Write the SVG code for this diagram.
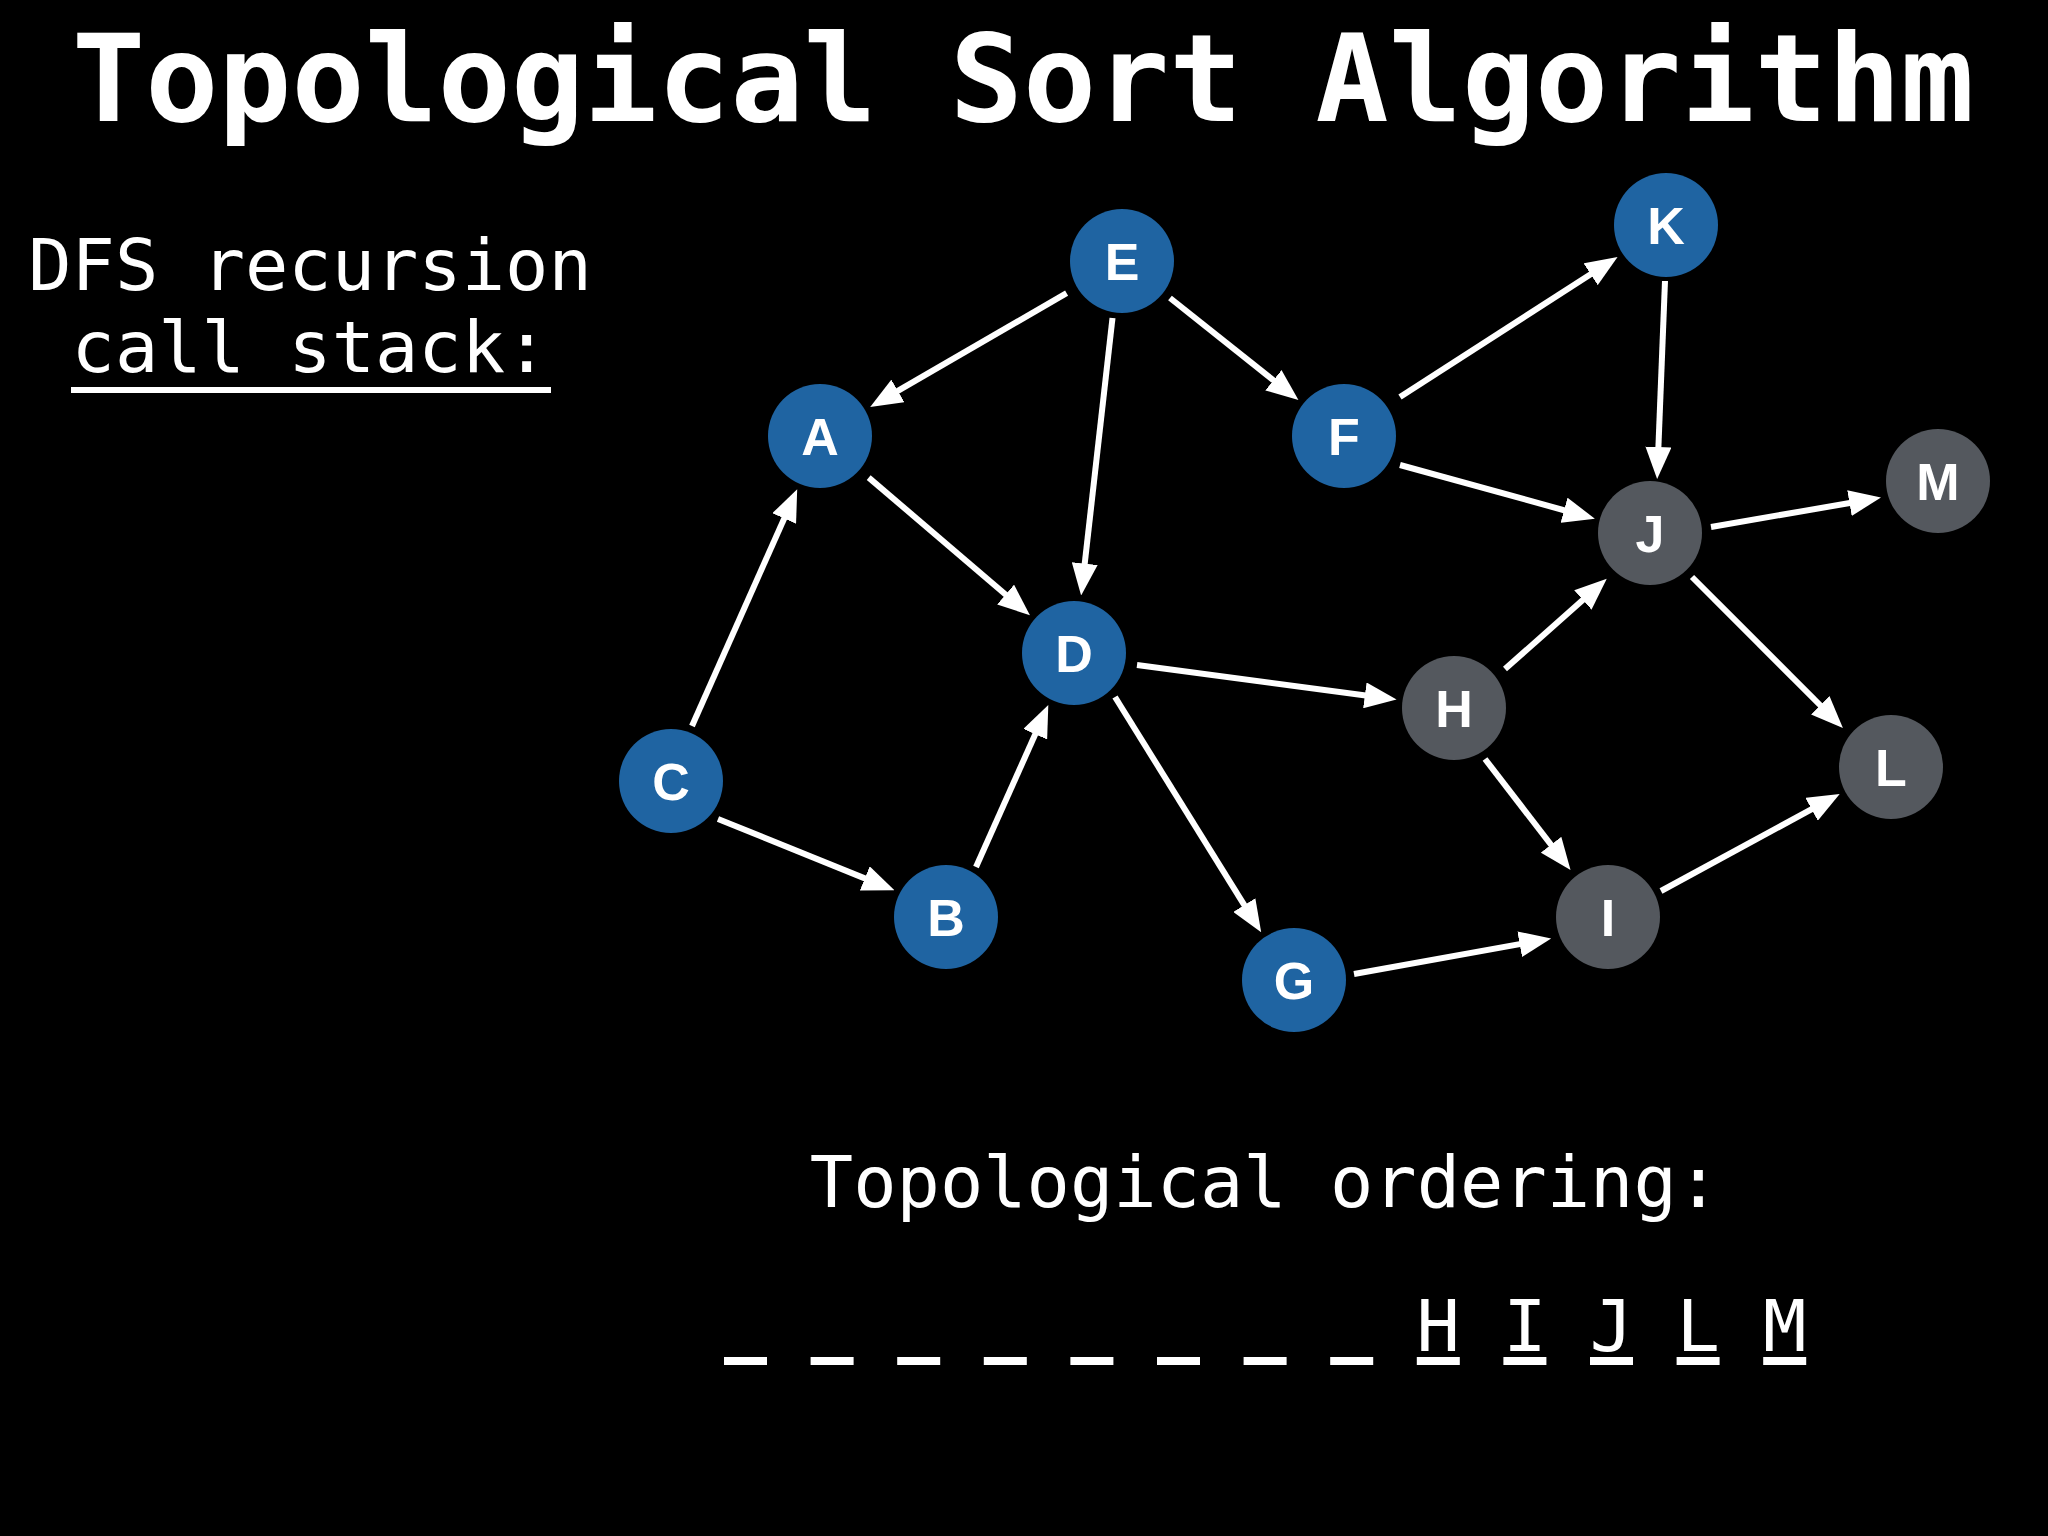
<svg xmlns="http://www.w3.org/2000/svg" width="2048" height="1536" viewBox="0 0 2048 1536">
<defs>
<style>
.title{font-family:"DejaVu Sans Mono","Liberation Mono",monospace;font-weight:bold;font-size:121.5px;fill:#fff}
.mono{font-family:"DejaVu Sans Mono","Liberation Mono",monospace;font-size:72px;fill:#fff}
.blue{fill:#1f64a2}
.gray{fill:#54585e}
.lbl{font-family:"Liberation Sans",Arial,sans-serif;font-weight:bold;font-size:52px;fill:#fff;text-anchor:middle}
.edge{stroke:#fff;stroke-width:6;fill:none;marker-end:url(#arr)}
.dash{fill:#fff}
</style>
<marker id="arr" markerUnits="userSpaceOnUse" markerWidth="32" markerHeight="26" refX="18" refY="13" orient="auto" viewBox="0 0 32 26">
<path d="M0,0 L32,13 L0,26 z" fill="#fff"/>
</marker>
</defs>
<rect width="2048" height="1536" fill="#000"/>
<text class="title" x="1023" y="121" text-anchor="middle">Topological Sort Algorithm</text>
<text class="mono" x="310" y="290" text-anchor="middle">DFS recursion</text>
<text class="mono" x="310" y="372" text-anchor="middle">call stack:</text>
<rect class="dash" x="71" y="387" width="480" height="6"/>
<g id="connectors">
<line class="edge" x1="1066.6" y1="293.1" x2="882.3" y2="399.9"/>
<line class="edge" x1="1112.5" y1="318" x2="1082.7" y2="581.5"/>
<line class="edge" x1="1170" y1="298" x2="1287.5" y2="391.4"/>
<line class="edge" x1="868.7" y1="477.6" x2="1019.3" y2="606.2"/>
<line class="edge" x1="692" y1="726" x2="791.5" y2="502.1"/>
<line class="edge" x1="718" y1="819" x2="881.5" y2="885.1"/>
<line class="edge" x1="976" y1="867" x2="1042.6" y2="717.8"/>
<line class="edge" x1="1137" y1="665" x2="1382.7" y2="697.7"/>
<line class="edge" x1="1115" y1="697" x2="1253.8" y2="920.3"/>
<line class="edge" x1="1400" y1="397" x2="1605.8" y2="264.5"/>
<line class="edge" x1="1400" y1="465" x2="1581.4" y2="515"/>
<line class="edge" x1="1665" y1="281" x2="1657.7" y2="465"/>
<line class="edge" x1="1711" y1="527" x2="1867.2" y2="500"/>
<line class="edge" x1="1692" y1="577" x2="1833" y2="718"/>
<line class="edge" x1="1505" y1="669" x2="1596.3" y2="588"/>
<line class="edge" x1="1485" y1="759" x2="1562" y2="859"/>
<line class="edge" x1="1354" y1="974" x2="1537.4" y2="941"/>
<line class="edge" x1="1661" y1="891" x2="1827.4" y2="800.7"/>
</g>
<g id="node-E"><circle class="blue" cx="1122" cy="261" r="52"/><text class="lbl" x="1122" y="280">E</text></g>
<g id="node-A"><circle class="blue" cx="820" cy="436" r="52"/><text class="lbl" x="820" y="455">A</text></g>
<g id="node-F"><circle class="blue" cx="1344" cy="436" r="52"/><text class="lbl" x="1344" y="455">F</text></g>
<g id="node-K"><circle class="blue" cx="1666" cy="225" r="52"/><text class="lbl" x="1666" y="244">K</text></g>
<g id="node-J"><circle class="gray" cx="1650" cy="533" r="52"/><text class="lbl" x="1650" y="552">J</text></g>
<g id="node-M"><circle class="gray" cx="1938" cy="481" r="52"/><text class="lbl" x="1938" y="500">M</text></g>
<g id="node-D"><circle class="blue" cx="1074" cy="653" r="52"/><text class="lbl" x="1074" y="672">D</text></g>
<g id="node-H"><circle class="gray" cx="1454" cy="708" r="52"/><text class="lbl" x="1454" y="727">H</text></g>
<g id="node-L"><circle class="gray" cx="1891" cy="767" r="52"/><text class="lbl" x="1891" y="786">L</text></g>
<g id="node-C"><circle class="blue" cx="671" cy="781" r="52"/><text class="lbl" x="671" y="800">C</text></g>
<g id="node-B"><circle class="blue" cx="946" cy="917" r="52"/><text class="lbl" x="946" y="936">B</text></g>
<g id="node-I"><circle class="gray" cx="1608" cy="917" r="52"/><text class="lbl" x="1608" y="936">I</text></g>
<g id="node-G"><circle class="blue" cx="1294" cy="980" r="52"/><text class="lbl" x="1294" y="999">G</text></g>
<text class="mono" x="1265" y="1207" text-anchor="middle">Topological ordering:</text>
<g id="ordering">
<rect class="dash" x="724" y="1357" width="43" height="8"/>
<rect class="dash" x="810.6" y="1357" width="43" height="8"/>
<rect class="dash" x="897.2" y="1357" width="43" height="8"/>
<rect class="dash" x="983.8" y="1357" width="43" height="8"/>
<rect class="dash" x="1070.4" y="1357" width="43" height="8"/>
<rect class="dash" x="1157" y="1357" width="43" height="8"/>
<rect class="dash" x="1243.6" y="1357" width="43" height="8"/>
<rect class="dash" x="1330.2" y="1357" width="43" height="8"/>
<rect class="dash" x="1416.8" y="1357" width="43" height="8"/>
<rect class="dash" x="1503.4" y="1357" width="43" height="8"/>
<rect class="dash" x="1590" y="1357" width="43" height="8"/>
<rect class="dash" x="1676.6" y="1357" width="43" height="8"/>
<rect class="dash" x="1763.2" y="1357" width="43" height="8"/>
<text class="mono" x="1438.3" y="1351" text-anchor="middle">H</text>
<text class="mono" x="1524.9" y="1351" text-anchor="middle">I</text>
<text class="mono" x="1611.5" y="1351" text-anchor="middle">J</text>
<text class="mono" x="1698.1" y="1351" text-anchor="middle">L</text>
<text class="mono" x="1784.7" y="1351" text-anchor="middle">M</text>
</g>
</svg>
